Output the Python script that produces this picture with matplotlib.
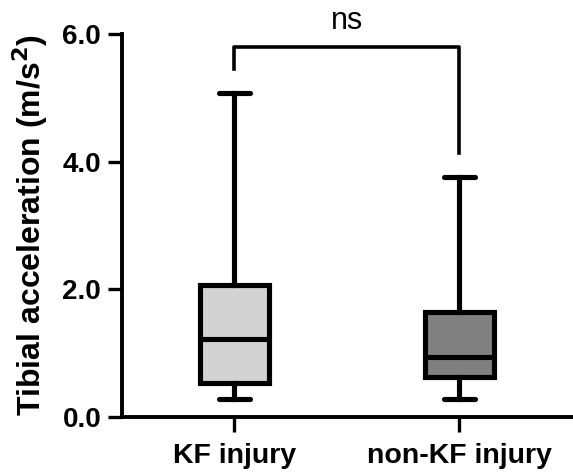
import matplotlib
matplotlib.use("Agg")
import matplotlib.pyplot as plt

plt.rcParams["font.family"] = ["Liberation Sans", "DejaVu Sans"]

# values (min / q1 / median / q3 / max)
groups = ["KF injury", "non-KF injury"]
mins = [0.28, 0.28]
q1s = [0.54, 0.63]
medians = [1.22, 0.945]
q3s = [2.07, 1.65]
maxs = [5.08, 3.76]
box_colors = ["#d3d3d3", "#808080"]
y_ticks = [0.0, 2.0, 4.0, 6.0]

# significance bracket
bracket_y = 5.80
bracket_left_end = 5.45
bracket_right_end = 4.13
sig_label = "ns"

fig = plt.figure(figsize=(5.73, 4.73), dpi=100)
ax = fig.add_axes([0.2129, 0.1184, 0.7851, 0.8096])

stats = []
for name, lo, a, m, b, hi in zip(groups, mins, q1s, medians, q3s, maxs):
    stats.append({"label": name, "whislo": lo, "q1": a, "med": m, "q3": b, "whishi": hi, "fliers": []})

lw = 3.7
bp = ax.bxp(stats, positions=[0, 1], widths=0.31, capwidths=0.14, patch_artist=True,
            showfliers=False,
            boxprops=dict(linewidth=lw, edgecolor="black"),
            whiskerprops=dict(linewidth=lw, color="black"),
            capprops=dict(linewidth=lw, color="black", solid_capstyle="round"),
            medianprops=dict(linewidth=lw, color="black", solid_capstyle="round"))
for patch, c in zip(bp["boxes"], box_colors):
    patch.set_facecolor(c)

ax.set_xlim(-0.5, 1.5)
ax.set_ylim(0, 6)
ax.set_yticks(y_ticks)
ax.set_yticklabels(["%.1f" % v for v in y_ticks], fontsize=20, fontweight="bold")
ax.set_xticks([0, 1])
ax.set_xticklabels(groups, fontsize=20.5, fontweight="bold")
ax.tick_params(axis="y", length=10, width=2.4, pad=5)
ax.tick_params(axis="x", length=11, width=2.4, pad=8)

for s in ["top", "right"]:
    ax.spines[s].set_visible(False)
for s in ["left", "bottom"]:
    ax.spines[s].set_linewidth(2.8)

ax.set_ylabel("Tibial acceleration (m/s$^\\mathbf{2}$)", fontsize=23, fontweight="bold")
ax.yaxis.set_label_coords(-0.16, 0.5)

# bracket between groups
ax.plot([0, 0, 1, 1], [bracket_left_end, bracket_y, bracket_y, bracket_right_end],
        color="black", linewidth=2.6, clip_on=False)
ax.text(0.5, bracket_y + 0.28, sig_label, ha="center", va="baseline", fontsize=22)

fig.savefig("out.png", dpi=100)
